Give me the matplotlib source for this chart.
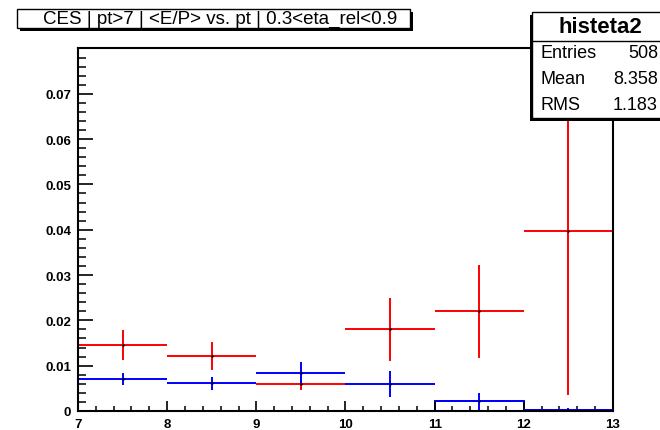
import numpy as np
import matplotlib
matplotlib.use("Agg")
import matplotlib.pyplot as plt
from matplotlib.patches import Rectangle
from matplotlib.ticker import MultipleLocator

plt.rcParams['font.family'] = ['Liberation Sans', 'DejaVu Sans']

# pt bins and the two <E/P> profiles
edges = [7, 8, 9, 10, 11, 12, 13]
red_vals = [0.0145, 0.0122, 0.0060, 0.0180, 0.0220, 0.0397]
red_errs = [0.0033, 0.0031, 0.0014, 0.0069, 0.0102, 0.0362]
blue_vals = [0.0070, 0.0061, 0.0083, 0.0060, 0.0021, 0.0003]
blue_errs = [0.0013, 0.0015, 0.0026, 0.0029, 0.0019, 0.0003]

stat_names = ["Entries", "Mean", "RMS"]
stat_values = ["508", "8.358", "1.183"]

W, H = 660, 431
fig = plt.figure(figsize=(W / 100, H / 100), dpi=100)


def fx(x):
    return x / W


def fy(y):
    return 1 - y / H


ax = fig.add_axes([fx(78), fy(412), fx(613) - fx(78), fy(49) - fy(412)])

edges = np.array(edges)
centers = 0.5 * (edges[:-1] + edges[1:])
half = 0.5 * np.diff(edges)

ax.errorbar(centers, red_vals, xerr=half, yerr=red_errs, fmt='none',
            ecolor='#ff0000', elinewidth=1.4, capsize=0)
ax.errorbar(centers, blue_vals, xerr=half, yerr=blue_errs, fmt='none',
            ecolor='#0000ff', elinewidth=1.4, capsize=0)
# last two blue bins also drawn as outline
ax.stairs(blue_vals[4:], edges[4:], color='#0000ff', linewidth=1.4, baseline=0)
ax.plot(centers, red_vals, 'k.', markersize=1.5)
ax.plot(centers, blue_vals, 'k.', markersize=1.5)

ax.set_xlim(7, 13)
ax.set_ylim(0, 0.0801)
ax.xaxis.set_minor_locator(MultipleLocator(0.2))
ax.yaxis.set_minor_locator(MultipleLocator(0.002))
ax.set_yticks([0, 0.01, 0.02, 0.03, 0.04, 0.05, 0.06, 0.07])
ax.set_yticklabels(['0', '0.01', '0.02', '0.03', '0.04', '0.05', '0.06', '0.07'])
ax.set_xticks(range(7, 14))
ax.set_xticklabels([str(v) for v in range(7, 14)])

ax.tick_params(axis='x', which='major', direction='in', length=7, width=1.2,
               labelsize=9.5, pad=5, top=False)
ax.tick_params(axis='x', which='minor', direction='in', length=3.5, width=1.1, top=False)
ax.tick_params(axis='y', which='major', direction='in', length=11, width=1.2,
               labelsize=9.5, pad=5, right=False)
ax.tick_params(axis='y', which='minor', direction='in', length=5.5, width=1.1, right=False)
for lab in ax.get_xticklabels() + ax.get_yticklabels():
    lab.set_fontweight('bold')
for s in ax.spines.values():
    s.set_linewidth(1.5)

# title pave with shadow
fig.patches.append(Rectangle((fx(20), fy(32)), fx(410) - fx(17), fy(10) - fy(29),
                             transform=fig.transFigure, facecolor='black',
                             edgecolor='none'))
fig.patches.append(Rectangle((fx(17), fy(29)), fx(410) - fx(17), fy(10) - fy(29),
                             transform=fig.transFigure, facecolor='white',
                             edgecolor='black', linewidth=1.0))
fig.text(fx(220), fy(19.5), "CES | pt>7 | <E/P> vs. pt | 0.3<eta_rel<0.9",
         ha='center', va='center', fontsize=13.5)

# stats box
fig.patches.append(Rectangle((fx(530), fy(122)), fx(664) - fx(532), fy(13) - fy(119),
                             transform=fig.transFigure, facecolor='black',
                             edgecolor='none'))
fig.patches.append(Rectangle((fx(532), fy(119)), fx(664) - fx(532), fy(13) - fy(119),
                             transform=fig.transFigure, facecolor='white',
                             edgecolor='black', linewidth=1.0))
fig.add_artist(plt.Line2D([fx(532), fx(664)], [fy(42), fy(42)],
                          transform=fig.transFigure, color='black', linewidth=1.0))
fig.text(fx(600), fy(28), "histeta2", ha='center', va='center',
         fontsize=16, fontweight='bold')
for i, (name, val) in enumerate(zip(stat_names, stat_values)):
    yy = fy(53 + 26 * i)
    fig.text(fx(540), yy, name, ha='left', va='center', fontsize=13)
    fig.text(fx(658), yy, val, ha='right', va='center', fontsize=13)

fig.savefig("out.png", dpi=100)
